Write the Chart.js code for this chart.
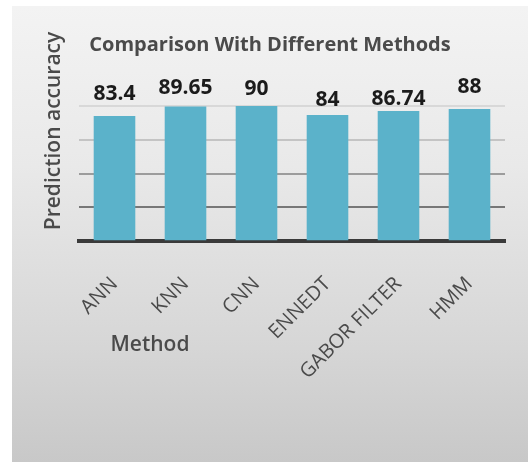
<!DOCTYPE html>
<html>
<head>
<meta charset="utf-8">
<script src="https://cdn.jsdelivr.net/npm/chart.js@4.4.1/dist/chart.umd.min.js"></script>
<style>
  html, body { margin: 0; padding: 0; background: #ffffff; }
  body { width: 528px; height: 462px; position: relative; overflow: hidden; }
  #panel {
    position: absolute; left: 12px; top: 6px; width: 516px; height: 456px;
    background: linear-gradient(180deg, #f3f3f3 0%, #e9e9e9 35%, #d6d6d6 75%, #c8c8c8 100%);
  }
  #panel canvas { display: block; }
</style>
</head>
<body>
<div id="panel"><canvas id="chart" width="516" height="456"></canvas></div>
<script>
// Prediction accuracy of each recognition method
const methods = ['ANN', 'KNN', 'CNN', 'ENNEDT', 'GABOR FILTER', 'HMM'];
const accuracy = [83.4, 89.65, 90, 84, 86.74, 88];
const yTicks = [0, 22.5, 45, 67.5, 90];

const chartTitle = 'Comparison With Different Methods';
const yTitle = 'Prediction accuracy';
const xTitle = 'Method';

const FONT = '"Open Sans", "DejaVu Sans", sans-serif';
const TEXT_GREY = '#4a4a4a';

// Value labels above bars (hand-placed lift per label, in px)
const valueLabels = {
  id: 'valueLabels',
  afterDatasetsDraw(chart, args, opts) {
    const { ctx } = chart;
    const meta = chart.getDatasetMeta(0);
    ctx.save();
    ctx.font = '700 21px ' + FONT;
    ctx.fillStyle = '#1b1b1b';
    ctx.textAlign = 'center';
    ctx.textBaseline = 'alphabetic';
    meta.data.forEach((bar, i) => {
      const lift = opts.lift[i] ?? 12;
      ctx.fillText(String(accuracy[i]), bar.x, bar.y - lift);
    });
    ctx.restore();
  }
};

// Axis captions placed the way the worksheet chart had them
const axisCaptions = {
  id: 'axisCaptions',
  afterDraw(chart) {
    const { ctx, chartArea } = chart;
    ctx.save();
    ctx.fillStyle = TEXT_GREY;
    ctx.font = '600 21px ' + FONT;
    ctx.textBaseline = 'middle';
    // vertical caption to the left of the plot
    ctx.save();
    ctx.translate(chartArea.left - 25, chartArea.top + 25);
    ctx.rotate(-Math.PI / 2);
    ctx.textAlign = 'center';
    ctx.fillText(yTitle, 0, 0);
    ctx.restore();
    // horizontal caption below the first categories
    ctx.textAlign = 'center';
    ctx.fillText(xTitle, chartArea.left + 71, chartArea.bottom + 104);
    ctx.restore();
  }
};

const gridShades = ['rgba(0,0,0,0)', '#777777', '#9c9c9c', '#c4c4c4', '#d8d8d8'];

new Chart(document.getElementById('chart'), {
  type: 'bar',
  data: {
    labels: methods,
    datasets: [{
      data: accuracy,
      backgroundColor: '#5bb2ca',
      borderWidth: 0,
      barPercentage: 0.586,
      categoryPercentage: 1.0
    }]
  },
  options: {
    responsive: false,
    animation: false,
    layout: { padding: { left: 23, right: 23, top: 0, bottom: 55 } },
    plugins: {
      legend: { display: false },
      tooltip: { enabled: false },
      title: {
        display: true,
        text: chartTitle,
        color: TEXT_GREY,
        font: { family: FONT, size: 20, weight: '700' },
        padding: { top: 27, bottom: 49 }
      },
      valueLabels: { lift: [16, 13, 11, 9, 6, 16] }
    },
    scales: {
      x: {
        z: 1,
        grid: { display: false },
        border: { display: true, color: '#3a3a3a', width: 4 },
        ticks: {
          color: TEXT_GREY,
          font: { family: FONT, size: 20 },
          minRotation: 45,
          maxRotation: 45,
          padding: 23
        }
      },
      y: {
        min: 0,
        max: 90,
        afterBuildTicks(scale) {
          scale.ticks = yTicks.map(v => ({ value: v }));
        },
        afterFit(scale) {
          scale.width = 44;
        },
        ticks: { display: false },
        border: { display: false },
        grid: {
          drawTicks: false,
          lineWidth: 2,
          color: ctx => gridShades[ctx.index] ?? '#d8d8d8'
        }
      }
    }
  },
  plugins: [valueLabels, axisCaptions]
});
</script>
</body>
</html>
